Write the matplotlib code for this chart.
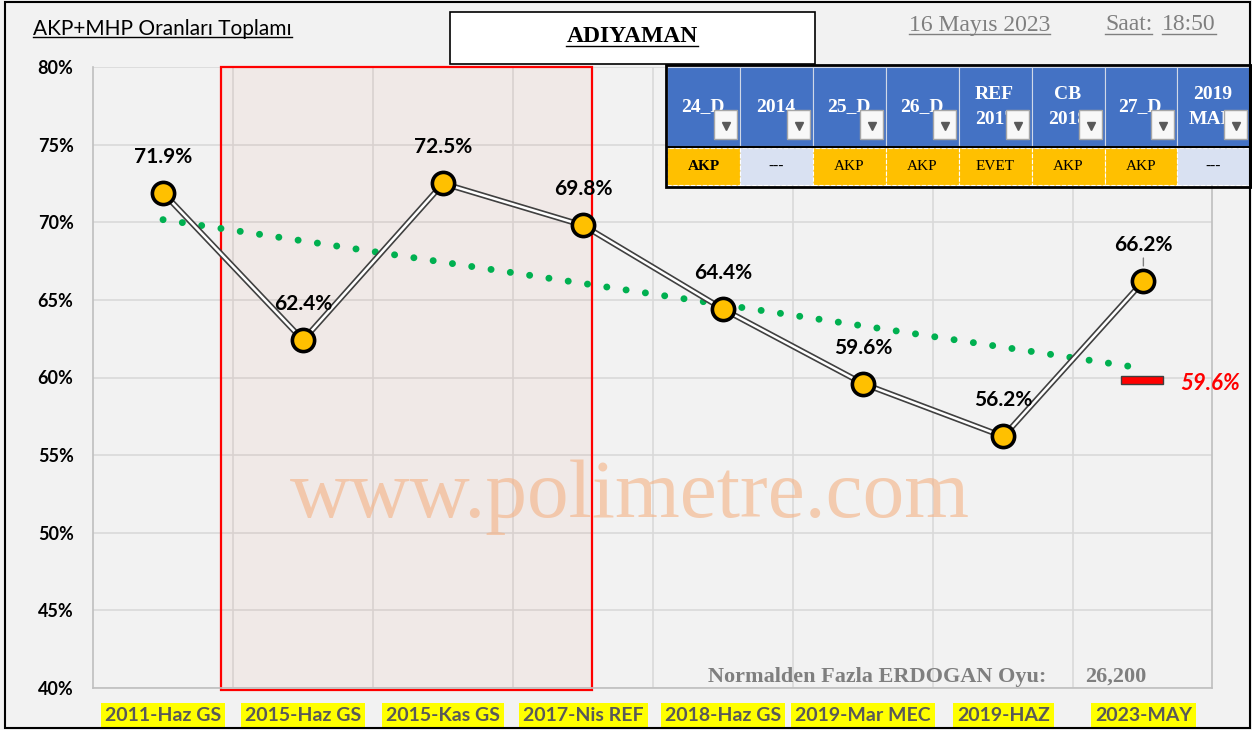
import matplotlib
matplotlib.use("Agg")
import matplotlib.pyplot as plt
from matplotlib.patches import Rectangle
from matplotlib.lines import Line2D
import numpy as np

labels = ['2011-Haz GS', '2015-Haz GS', '2015-Kas GS', '2017-Nis REF',
          '2018-Haz GS', '2019-Mar MEC', '2019-HAZ', '2023-MAY']
values = [71.9, 62.4, 72.5, 69.8, 64.4, 59.6, 56.2, 66.2]
target = 59.6
yticks = [40, 45, 50, 55, 60, 65, 70, 75, 80]

tbl_head = ['24_D', '2014', '25_D', '26_D', 'REF\n2017', 'CB\n2018', '27_D', '2019\nMAR']
tbl_vals = ['AKP', '---', 'AKP', 'AKP', 'EVET', 'AKP', 'AKP', '---']
extra_label = 'Normalden Fazla ERDOGAN Oyu:'
extra_value = '26,200'
title = 'ADIYAMAN'
subtitle = 'AKP+MHP Oranları Toplamı'
date_txt = '16 Mayıs 2023'
saat_txt = 'Saat:'
time_txt = '18:50'

W, H = 1252, 730
SANS = ['Lato', 'DejaVu Sans']
SERIF = ['Liberation Serif', 'DejaVu Serif']
BG = '#F2F2F2'


def fx(px):
    return px / W


def fy(py):
    return 1 - py / H


plt.rcParams['font.family'] = SANS

fig = plt.figure(figsize=(W / 100, H / 100), dpi=100, facecolor=BG)
ax = fig.add_axes([fx(93), fy(688), (1212 - 93) / W, (688 - 67) / H])
ax.set_facecolor(BG)

x = np.arange(len(values))
ax.set_xlim(-0.5, 7.49)
ax.set_ylim(40, 80)

ax.set_yticks(yticks)
ax.set_yticklabels([f'{v}%' for v in yticks], fontsize=13, fontweight='bold')
ax.set_xticks(x)
ax.set_xticklabels(labels, fontsize=14, fontweight='bold', color='#595959')
for lbl in ax.get_xticklabels():
    lbl.set_bbox(dict(facecolor='#FFFF00', edgecolor='none', pad=3))
ax.set_xticks(x[:-1] + 0.5, minor=True)
ax.tick_params(axis='both', which='both', length=0)
ax.tick_params(axis='x', pad=14)
ax.tick_params(axis='y', pad=14)
ax.yaxis.grid(True, color='#D9D9D9', lw=1.2)
ax.xaxis.grid(True, which='minor', color='#D9D9D9', lw=1.2)
ax.set_axisbelow(True)
for s in ['left', 'right', 'bottom']:
    ax.spines[s].set_color('#BFBFBF')
    ax.spines[s].set_linewidth(1.2)
ax.spines['top'].set_visible(False)

# highlighted period
ax.add_patch(Rectangle((0.414, 39.9), 2.65, 40.1, facecolor=(0.85, 0.45, 0.35, 0.07),
                       edgecolor='red', lw=1.6, clip_on=False, zorder=1))

# watermark
ax.text(fx(630), fy(497), 'www.polimetre.com', transform=fig.transFigure,
        family=SERIF, fontsize=60, color='#F4B183', alpha=0.6,
        ha='center', va='center', zorder=2)

# trend line
coef = np.polyfit(x, values, 1)
ax.plot(x, np.polyval(coef, x), color='#00B050', lw=5,
        ls=(0, (0.01, 2.8)), dash_capstyle='round', zorder=3)

# main line (double stroke)
ax.plot(x, values, color='#404040', lw=4.2, zorder=4, solid_joinstyle='miter')
ax.plot(x, values, color='white', lw=1.8, zorder=5, solid_joinstyle='miter')
ax.plot(x, values, 'o', ms=16, mfc='#FFC000', mec='black', mew=2.6, zorder=6)

for i, v in enumerate(values):
    kw = {}
    if i == len(values) - 1:
        kw['arrowprops'] = dict(arrowstyle='-', color='#7F7F7F', lw=1, shrinkA=0, shrinkB=11)
    ax.annotate(f'{v:.1f}%', (i, v), xytext=(0, 36), textcoords='offset pixels',
                ha='center', va='center', fontsize=15, fontweight='bold', zorder=7, **kw)

# target marker
ax.add_patch(Rectangle((6.84, target), 0.3, 0.5, facecolor='red', edgecolor='#404040',
                       lw=1, zorder=6, clip_on=False))
ax.text(7.26, target, f'{target:.1f}%', color='red', fontsize=16, fontweight='bold',
        fontstyle='italic', ha='left', va='center', clip_on=False)

# bottom note
fig.text(fx(708), fy(677), extra_label, family=SERIF, fontsize=16, fontweight='bold',
         color='#7F7F7F', va='center')
fig.text(fx(1085), fy(677), extra_value, family=SERIF, fontsize=16, fontweight='bold',
         color='#7F7F7F', va='center')

# title box
fig.add_artist(Rectangle((fx(450), fy(64)), (815 - 450) / W, (64 - 12) / H,
                         transform=fig.transFigure, facecolor='white',
                         edgecolor='black', lw=1.2))
t_title = fig.text(fx(632), fy(37), title, family=SERIF, fontsize=17,
                   fontweight='bold', ha='center', va='center')
t_sub = fig.text(fx(33), fy(29), subtitle, fontsize=15, va='center')
t_date = fig.text(fx(909), fy(25), date_txt, family=SERIF, fontsize=17,
                  color='#7F7F7F', va='center')
t_saat = fig.text(fx(1105), fy(25), saat_txt, family=SERIF, fontsize=17,
                  color='#7F7F7F', va='center')
t_time = fig.text(fx(1162), fy(25), time_txt, family=SERIF, fontsize=17,
                  color='#7F7F7F', va='center')

# table top right
cols = [667, 740, 813, 886, 959, 1032, 1105, 1177, 1250]
for i in range(len(tbl_head)):
    x0, x1 = cols[i], cols[i + 1]
    fig.add_artist(Rectangle((fx(x0), fy(146)), (x1 - x0) / W, (146 - 67) / H,
                             transform=fig.transFigure, facecolor='#4472C4',
                             edgecolor='#D0D8E8', lw=0.8))
    fig.text(fx((x0 + x1) / 2 - 1), fy(107), tbl_head[i], family=SERIF, fontsize=14,
             fontweight='bold', color='white', ha='center', va='center',
             linespacing=1.55)
    fig.add_artist(Rectangle((fx(x1 - 26), fy(139)), 23 / W, 29 / H,
                             transform=fig.transFigure, facecolor='#F8F8F8',
                             edgecolor='#A6A6A6', lw=1, zorder=5))
    fig.add_artist(Line2D([fx(x1 - 14.5)], [fy(126)], marker='v', ms=6,
                          color='#595959', transform=fig.transFigure, zorder=6))
    fc = '#D9E1F2' if tbl_vals[i] == '---' else '#FFC000'
    fig.add_artist(Rectangle((fx(x0), fy(185)), (x1 - x0) / W, (185 - 148) / H,
                             transform=fig.transFigure, facecolor=fc,
                             edgecolor='white', lw=0.8, ls='--'))
    fig.text(fx((x0 + x1) / 2), fy(166), tbl_vals[i], family=SERIF, fontsize=11,
             fontweight='bold' if i == 0 else 'normal', ha='center', va='center')
fig.add_artist(Line2D([fx(667), fx(1250)], [fy(147), fy(147)], color='black', lw=1.5,
                      transform=fig.transFigure))
fig.add_artist(Rectangle((fx(666), fy(187)), (1251 - 666) / W, (187 - 65) / H,
                         transform=fig.transFigure, facecolor='none',
                         edgecolor='black', lw=2, zorder=7))

# outer frame
fig.add_artist(Rectangle((fx(5), fy(728)), (1250 - 5) / W, (728 - 2) / H,
                         transform=fig.transFigure, facecolor='none',
                         edgecolor='black', lw=1.5, zorder=8))

# underlines
fig.canvas.draw()
r = fig.canvas.get_renderer()
for t, c in [(t_title, 'black'), (t_sub, 'black'), (t_date, '#7F7F7F'),
             (t_saat, '#7F7F7F'), (t_time, '#7F7F7F')]:
    bb = t.get_window_extent(r)
    yy = (bb.y0 + 2) / H
    fig.add_artist(Line2D([bb.x0 / W, bb.x1 / W], [yy, yy], color=c, lw=1,
                          transform=fig.transFigure))

fig.savefig('out.png', dpi=100, facecolor=BG)
